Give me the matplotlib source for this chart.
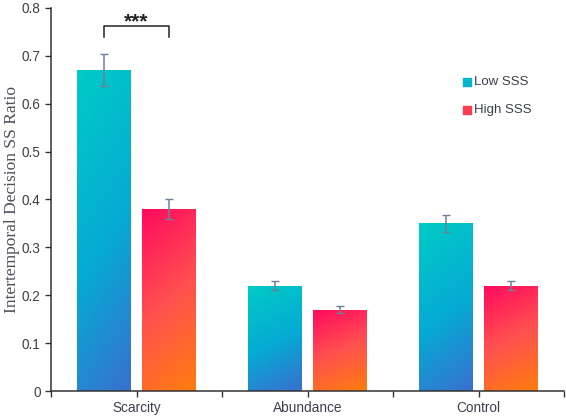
import numpy as np
import matplotlib
matplotlib.use('Agg')
import matplotlib.pyplot as plt
from matplotlib.colors import LinearSegmentedColormap
from matplotlib.patches import Rectangle

# data
categories = ['Scarcity', 'Abundance', 'Control']
low_sss = [0.67, 0.22, 0.35]
low_err = [0.033, 0.010, 0.017]
high_sss = [0.38, 0.17, 0.22]
high_err = [0.020, 0.008, 0.010]
series_names = ['Low SSS', 'High SSS']

low_cmap = LinearSegmentedColormap.from_list(
    'low', [(0.0, '#00cbc6'), (0.55, '#06a9d3'), (1.0, '#3a6fcf')])
high_cmap = LinearSegmentedColormap.from_list(
    'high', [(0.0, '#ff0a5e'), (0.5, '#ff5050'), (1.0, '#ff7d0e')])

plt.rcParams['font.family'] = ['Liberation Sans', 'DejaVu Sans']

fig = plt.figure(figsize=(5.66, 4.16), dpi=100)
ax = fig.add_axes([0.090, 0.060, 0.907, 0.921])

width = 0.315
offset = 0.19
x = np.arange(len(categories))

# gradient image: top-left = 0, bottom-right = 1
gy, gx = np.mgrid[0:1:200j, 0:1:50j]
grad = 0.8 * gy + 0.2 * gx


def gradient_bar(xc, h, cmap):
    rect = Rectangle((xc - width / 2, 0), width, h, facecolor='none',
                     edgecolor='none')
    ax.add_patch(rect)
    im = ax.imshow(grad, cmap=cmap, extent=(xc - width / 2, xc + width / 2, 0, h),
                   origin='upper', aspect='auto', interpolation='bilinear',
                   zorder=2)
    im.set_clip_path(rect)


for i in range(len(categories)):
    gradient_bar(x[i] - offset, low_sss[i], low_cmap)
    gradient_bar(x[i] + offset, high_sss[i], high_cmap)

ax.errorbar(x - offset, low_sss, yerr=low_err, fmt='none', ecolor='#6e8096',
            elinewidth=1.1, capsize=3, capthick=1.0, zorder=3)
ax.errorbar(x + offset, high_sss, yerr=high_err, fmt='none', ecolor='#6e8096',
            elinewidth=1.1, capsize=3, capthick=1.0, zorder=3)

# significance bracket
bx0, bx1 = x[0] - offset, x[0] + offset
ax.plot([bx0, bx0, bx1, bx1], [0.739, 0.762, 0.762, 0.739], color='#222222',
        lw=1.1, zorder=3)
ax.text((bx0 + bx1) / 2, 0.752, '***', ha='center', va='bottom',
        fontsize=15, fontweight='bold', color='#222222')

ax.set_xlim(-0.5, 2.5)
ax.set_ylim(0, 0.8)
ax.set_yticks(np.arange(0, 0.81, 0.1))
ax.set_yticklabels(['0'] + ['%.1f' % v for v in np.arange(0.1, 0.81, 0.1)])
ax.set_xticks(x)
ax.set_xticklabels(categories)
ax.set_xticks([-0.5, 0.5, 1.5, 2.5], minor=True)
ax.tick_params(axis='both', which='both', direction='out', length=4,
               width=1, color='#333333', labelsize=9.8, labelcolor='#3a3f4a')
ax.tick_params(axis='x', pad=3)

for s in ['top', 'right']:
    ax.spines[s].set_visible(False)
for s in ['left', 'bottom']:
    ax.spines[s].set_color('#333333')
    ax.spines[s].set_linewidth(1.1)

ax.set_ylabel('Intertemporal Decision SS Ratio', family='Liberation Serif',
              fontsize=12.5, color='#4a4f5a')
ax.yaxis.set_label_coords(-0.061, 0.5)

# legend
lx = 1.933
for yy, cm, name in zip([0.645, 0.587], [low_cmap, high_cmap], series_names):
    ax.scatter([lx], [yy], marker='s', s=34, c=[cm(0.35)], zorder=4)
    ax.text(lx + 0.04, yy, name, va='center', ha='left', fontsize=9.5,
            color='#3a3f4a')

fig.savefig('out.png', dpi=100)
